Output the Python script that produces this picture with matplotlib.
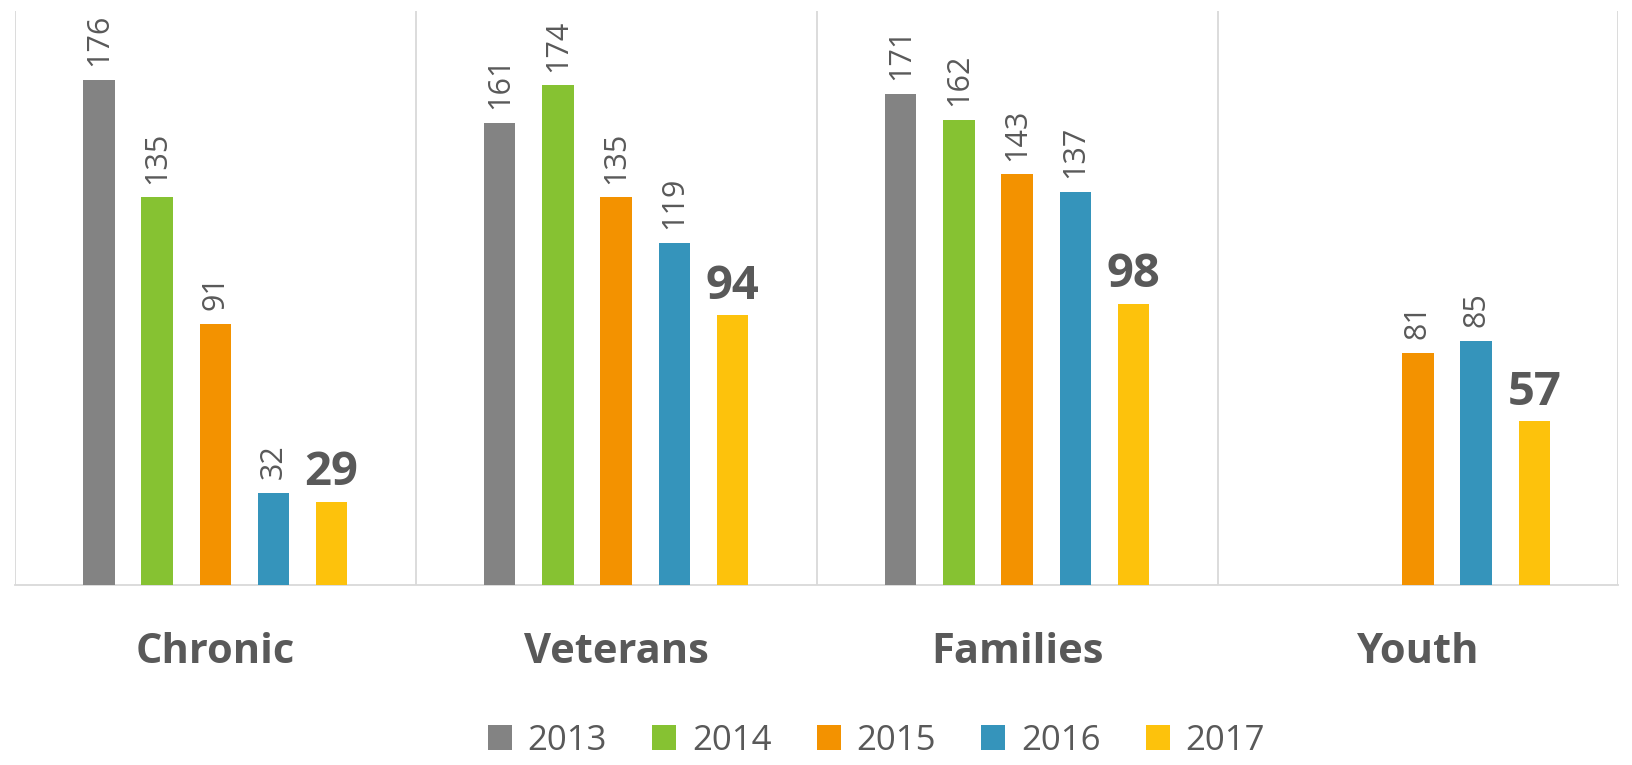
import numpy as np
import matplotlib.pyplot as plt

# Data
categories = ["Chronic", "Veterans", "Families", "Youth"]
years = ["2013", "2014", "2015", "2016", "2017"]
counts = {
    "2013": [176, 161, 171, np.nan],
    "2014": [135, 174, 162, np.nan],
    "2015": [91, 135, 143, 81],
    "2016": [32, 119, 137, 85],
    "2017": [29, 94, 98, 57],
}
colors = ["#838383", "#86C232", "#F39200", "#3594BB", "#FDC20C"]

text_color = "#595959"
grid_color = "#D9D9D9"
plt.rcParams["font.family"] = ["Open Sans", "DejaVu Sans"]

fig = plt.figure(figsize=(16.32, 7.65), dpi=100)
ax = fig.add_axes([0.009, 0.235, 0.9827, 0.751])

x = np.arange(len(categories))
step = 0.145
width = 0.078

for i, year in enumerate(years):
    offset = (i - 2) * step
    vals = np.array(counts[year], dtype=float)
    bars = ax.bar(x + offset, vals, width, color=colors[i], label=year, zorder=3)
    for b, v in zip(bars, vals):
        if np.isnan(v):
            continue
        cx = b.get_x() + b.get_width() / 2
        if year == "2017":
            ax.annotate(f"{int(v)}", (cx, v), xytext=(0, 4), textcoords="offset points",
                        ha="center", va="bottom", fontsize=34, fontweight="bold",
                        color=text_color)
        else:
            ax.annotate(f"{int(v)}", (cx, v), xytext=(0, 10), textcoords="offset points",
                        ha="center", va="bottom", rotation=90, fontsize=22,
                        color=text_color)

# category separators
for s in np.arange(-0.5, len(categories), 1.0):
    ax.axvline(s, color=grid_color, lw=1.3, zorder=1)

ax.set_xlim(-0.5, len(categories) - 0.5)
ax.set_ylim(0, 200)
ax.set_yticks([])
ax.set_xticks(x)
ax.set_xticklabels(categories, fontsize=30, fontweight="bold", color=text_color)
ax.tick_params(axis="x", length=0, pad=34)
for side in ["top", "left", "right"]:
    ax.spines[side].set_visible(False)
ax.spines["bottom"].set_color(grid_color)
ax.spines["bottom"].set_linewidth(1.3)

fig.legend(loc="center", bbox_to_anchor=(0.537, 0.032), ncol=5, frameon=False,
           fontsize=25, handlelength=0.7, handleheight=0.7, handletextpad=0.45,
           columnspacing=1.3, labelcolor=text_color)

fig.savefig("out.png", dpi=100)
